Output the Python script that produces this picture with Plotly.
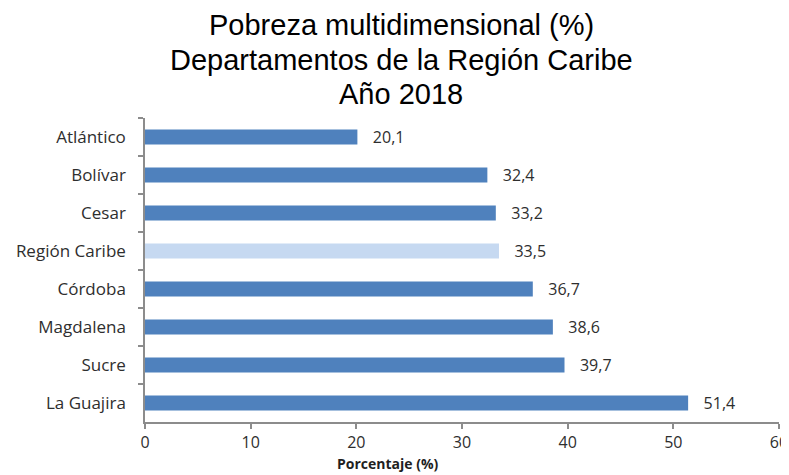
import plotly.graph_objects as go

# ── Data ──────────────────────────────────────────────────────────────────────
DEPARTAMENTOS = ["Atlántico", "Bolívar", "Cesar", "Región Caribe",
                 "Córdoba", "Magdalena", "Sucre", "La Guajira"]
POBREZA = [20.1, 32.4, 33.2, 33.5, 36.7, 38.6, 39.7, 51.4]
X_TICKS = [0, 10, 20, 30, 40, 50, 60]
TITLE_LINES = ["Pobreza multidimensional (%)",
               "Departamentos de la Región Caribe",
               "Año 2018"]

# ── Palette ───────────────────────────────────────────────────────────────────
BAR      = "#4f81bd"
BAR_LITE = "#c6d9f1"
AXIS     = "#8c8c8c"
TEXT     = "#2e2e2e"
FONT     = "Open Sans, sans-serif"

colors = [BAR_LITE if d == "Región Caribe" else BAR for d in DEPARTAMENTOS]

fig = go.Figure(go.Bar(
    x=POBREZA, y=DEPARTAMENTOS, orientation="h",
    marker=dict(color=colors, line_width=0),
    width=0.4,
    texttemplate="\u00a0\u00a0\u00a0%{x:.1f}", textposition="outside",
    constraintext="none",
    textfont=dict(family=FONT, size=16, color=TEXT),
    cliponaxis=False,
))

# title as one annotation per line so the spacing can be set exactly
title_y = [1.306, 1.191, 1.079]
annotations = [
    dict(text=line, x=0.404, y=y, xref="paper", yref="paper",
         xanchor="center", yanchor="middle", showarrow=False,
         font=dict(family="Liberation Sans, Arial", size=29, color="black"))
    for line, y in zip(TITLE_LINES, title_y)
]
annotations.append(dict(
    text="<b>Porcentaje (%)</b>", x=0.383, y=-0.135,
    xref="paper", yref="paper", xanchor="center", yanchor="middle",
    showarrow=False, font=dict(family=FONT, size=14, color="#1f1f1f"),
))

# page body has an 8px margin, so the figure is a bit smaller than the window
fig.update_layout(
    width=781, height=467,
    separators=",.",
    paper_bgcolor="white", plot_bgcolor="white",
    margin=dict(l=137, r=1, t=110, b=53),
    showlegend=False,
    xaxis=dict(
        range=[0, 60], tickvals=X_TICKS, showgrid=False, zeroline=False,
        showline=True, linecolor=AXIS, linewidth=1.5,
        ticks="outside", tickcolor=AXIS, ticklen=5, tickwidth=1.5,
        ticklabeloverflow="allow",
        tickfont=dict(family=FONT, size=16, color=TEXT),
    ),
    yaxis=dict(
        autorange="reversed", showgrid=False, zeroline=False,
        showline=True, linecolor=AXIS, linewidth=1.5,
        ticks="outside", tickson="boundaries", tickcolor=AXIS,
        ticklen=5, tickwidth=1.5, ticklabelstandoff=14,
        tickfont=dict(family=FONT, size=17, color=TEXT),
    ),
    annotations=annotations,
)

fig.write_html("out.html")
